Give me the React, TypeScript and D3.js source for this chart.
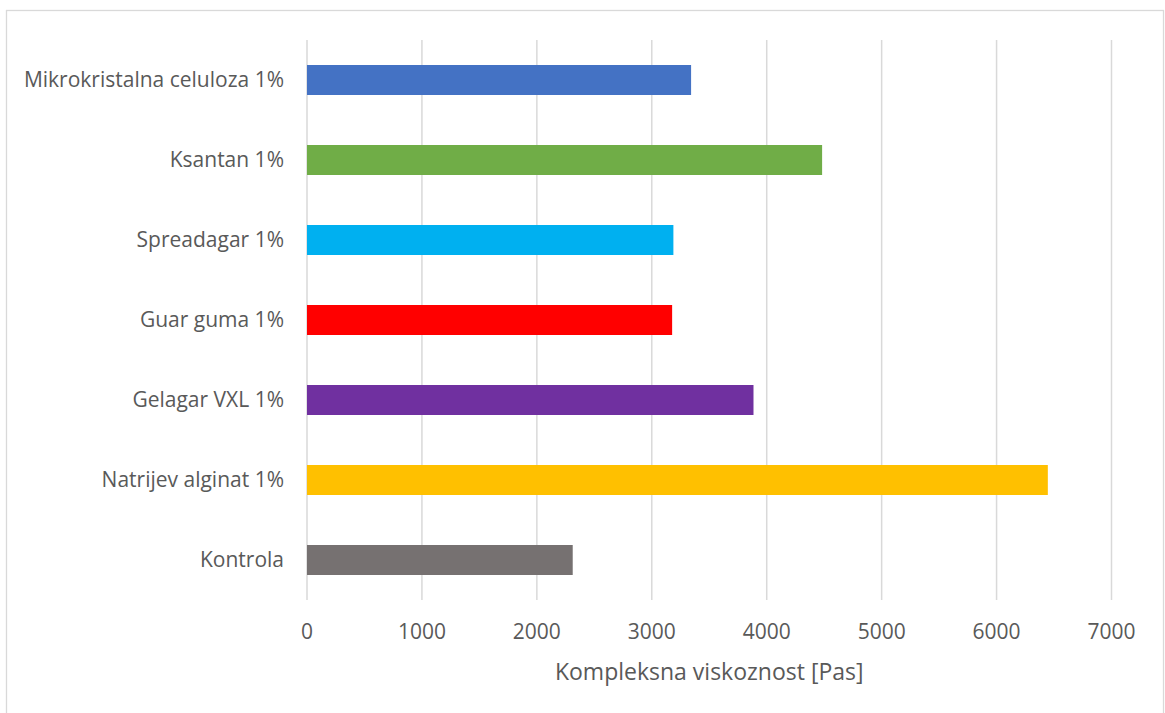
import { useRef, useEffect } from "react";
import * as d3 from "d3";

const categories = [
  "Mikrokristalna celuloza 1%",
  "Ksantan 1%",
  "Spreadagar 1%",
  "Guar guma 1%",
  "Gelagar VXL 1%",
  "Natrijev alginat 1%",
  "Kontrola",
];
const values = [3342, 4482, 3188, 3177, 3885, 6446, 2312];
const barColors = ["#4472C4", "#70AD47", "#00B0F0", "#FF0000", "#7030A0", "#FFC000", "#767171"];
const xTicks = [0, 1000, 2000, 3000, 4000, 5000, 6000, 7000];
const xTitle = "Kompleksna viskoznost [Pas]";

const WIDTH = 1165;
const HEIGHT = 713;
const FONT = "'Open Sans', 'Liberation Sans', sans-serif";
const TEXT = "#595959";
const GRID = "#d9d9d9";

export default function App() {
  const svgRef = useRef<SVGSVGElement>(null);

  useEffect(() => {
    if (!svgRef.current) return;
    const svg = d3.select(svgRef.current);
    svg.selectAll("*").remove();

    const plot = { left: 307, right: 1111.5, top: 40, bottom: 600 };

    const x = d3.scaleLinear().domain([0, 7000]).range([plot.left, plot.right]);
    const y = d3
      .scaleBand<string>()
      .domain(categories)
      .range([plot.top, plot.bottom])
      .paddingInner(0.625)
      .paddingOuter(0.3125);

    // chart border
    svg
      .append("rect")
      .attr("x", 6.5)
      .attr("y", 10.5)
      .attr("width", 1157)
      .attr("height", 710)
      .attr("fill", "white")
      .attr("stroke", GRID)
      .attr("stroke-width", 1.3);

    // Grid
    svg
      .append("g")
      .selectAll("line")
      .data(xTicks)
      .enter()
      .append("line")
      .attr("x1", (d) => x(d))
      .attr("x2", (d) => x(d))
      .attr("y1", plot.top)
      .attr("y2", plot.bottom)
      .attr("stroke", GRID)
      .attr("stroke-width", 1.5);

    // Bars
    svg
      .append("g")
      .selectAll("rect")
      .data(categories)
      .enter()
      .append("rect")
      .attr("x", x(0))
      .attr("y", (d) => y(d) ?? 0)
      .attr("width", (_, i) => x(values[i]) - x(0))
      .attr("height", y.bandwidth())
      .attr("fill", (_, i) => barColors[i]);

    // Category labels
    svg
      .append("g")
      .selectAll("text")
      .data(categories)
      .enter()
      .append("text")
      .attr("x", plot.left - 23)
      .attr("y", (d) => (y(d) ?? 0) + y.bandwidth() / 2)
      .attr("dy", "0.35em")
      .attr("text-anchor", "end")
      .attr("fill", TEXT)
      .attr("font-family", FONT)
      .attr("font-size", "21px")
      .text((d) => d);

    // Tick labels
    svg
      .append("g")
      .selectAll("text")
      .data(xTicks)
      .enter()
      .append("text")
      .attr("x", (d) => x(d))
      .attr("y", 632)
      .attr("dy", "0.35em")
      .attr("text-anchor", "middle")
      .attr("fill", TEXT)
      .attr("font-family", FONT)
      .attr("font-size", "21px")
      .text((d) => `${d}`);

    // Axis title
    svg
      .append("text")
      .attr("x", (plot.left + plot.right) / 2)
      .attr("y", 672)
      .attr("dy", "0.35em")
      .attr("text-anchor", "middle")
      .attr("fill", TEXT)
      .attr("font-family", FONT)
      .attr("font-size", "23px")
      .text(xTitle);
  }, []);

  return (
    <svg
      ref={svgRef}
      width={WIDTH}
      height={HEIGHT}
      style={{ position: "fixed", left: 0, top: 0, display: "block", background: "white" }}
    />
  );
}
